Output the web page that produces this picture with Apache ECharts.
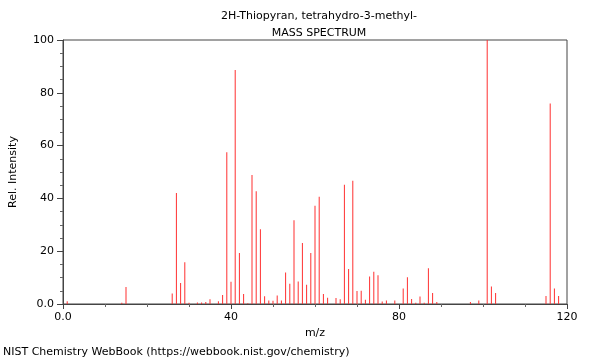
<!DOCTYPE html>
<html>
<head>
<meta charset="utf-8">
<script src="https://cdn.jsdelivr.net/npm/echarts@6/dist/echarts.min.js"></script>
<style>
  html, body { margin: 0; padding: 0; background: #fff; }
  #chart { width: 600px; height: 360px; }
</style>
</head>
<body>
<div id="chart"></div>
<script>
// m/z peaks and relative intensities
const mz = [1, 14, 15, 26, 27, 28, 29, 30, 32, 33, 34, 35, 37, 38, 39, 40, 41, 42, 43, 44,
  45, 46, 47, 48, 49, 50, 51, 52, 53, 54, 55, 56, 57, 58, 59, 60, 61, 62, 63, 65,
  66, 67, 68, 69, 70, 71, 72, 73, 74, 75, 76, 77, 79, 81, 82, 83, 84, 85, 86, 87,
  88, 89, 97, 99, 101, 102, 103, 115, 116, 117, 118];
const intensity = [1.0, 0.5, 6.4, 4.0, 42.0, 8.0, 15.8, 0.5, 0.6, 0.6, 0.8, 1.8, 1.0, 3.4, 57.5, 8.4, 88.6, 19.3, 3.8, 0.3,
  48.9, 42.7, 28.3, 2.9, 1.3, 1.2, 3.2, 1.3, 11.9, 7.7, 31.7, 8.5, 23.1, 7.3, 19.3, 37.2, 40.6, 3.8, 2.4, 2.3,
  1.8, 45.2, 13.3, 46.7, 4.9, 5.0, 1.6, 10.4, 12.2, 10.9, 0.9, 1.3, 1.3, 5.9, 10.1, 1.9, 0.5, 2.8, 0.5, 13.5,
  4.2, 0.8, 0.8, 1.3, 100, 6.6, 4.2, 3.0, 75.9, 5.9, 3.0];

const xTicks = [0, 40, 80, 120];
const yTicks = [0, 20, 40, 60, 80, 100];

const font = "DejaVu Sans";
const chart = echarts.init(document.getElementById("chart"));

const option = {
  animation: false,
  textStyle: { fontFamily: font },
  title: [
    {
      text: "2H-Thiopyran, tetrahydro-3-methyl-",
      left: 314, top: 6, textAlign: "center",
      textStyle: { fontFamily: font, fontSize: 11, fontWeight: "normal", color: "#000" }
    },
    {
      text: "MASS SPECTRUM",
      left: 314, top: 23, textAlign: "center",
      textStyle: { fontFamily: font, fontSize: 11, fontWeight: "normal", color: "#000" }
    }
  ],
  graphic: [
    {
      type: "text", left: 3, top: 347,
      style: { text: "NIST Chemistry WebBook (https://webbook.nist.gov/chemistry)", font: "11px " + font, fill: "#000" }
    }
  ],
  grid: {
    left: 62, right: 33, top: 40, bottom: 56,
    show: true, borderColor: "#444", borderWidth: 1, backgroundColor: "transparent"
  },
  xAxis: {
    type: "value", min: 0, max: 120, interval: 40,
    name: "m/z", nameLocation: "middle", nameGap: 23,
    nameTextStyle: { fontFamily: font, fontSize: 11, color: "#000" },
    axisLine: { show: true, lineStyle: { color: "#444" } },
    axisTick: { show: true, length: 5, lineStyle: { color: "#444" } },
    minorTick: { show: true, splitNumber: 4, length: 3, lineStyle: { color: "#666" } },
    splitLine: { show: false },
    axisLabel: {
      fontFamily: font, fontSize: 11, color: "#000", margin: 8,
      formatter: v => (xTicks.includes(v) ? (v === 0 ? "0.0" : String(v)) : "")
    }
  },
  yAxis: {
    type: "value", min: 0, max: 100, interval: 20,
    name: "Rel. Intensity", nameLocation: "middle", nameGap: 44,
    nameTextStyle: { fontFamily: font, fontSize: 11, color: "#000" },
    axisLine: { show: true, lineStyle: { color: "#444" } },
    axisTick: { show: true, length: 6, lineStyle: { color: "#444" } },
    minorTick: { show: true, splitNumber: 4, length: 3, lineStyle: { color: "#666" } },
    splitLine: { show: false },
    axisLabel: {
      fontFamily: font, fontSize: 11, color: "#000", margin: 9,
      formatter: v => (yTicks.includes(v) ? (v === 0 ? "0.0" : String(v)) : "")
    }
  },
  series: [
    {
      type: "bar",
      data: mz.map((m, i) => [m, intensity[i]]),
      barWidth: 1,
      itemStyle: { color: "#ff3030" },
      silent: true
    }
  ]
};

chart.setOption(option);
</script>
</body>
</html>
